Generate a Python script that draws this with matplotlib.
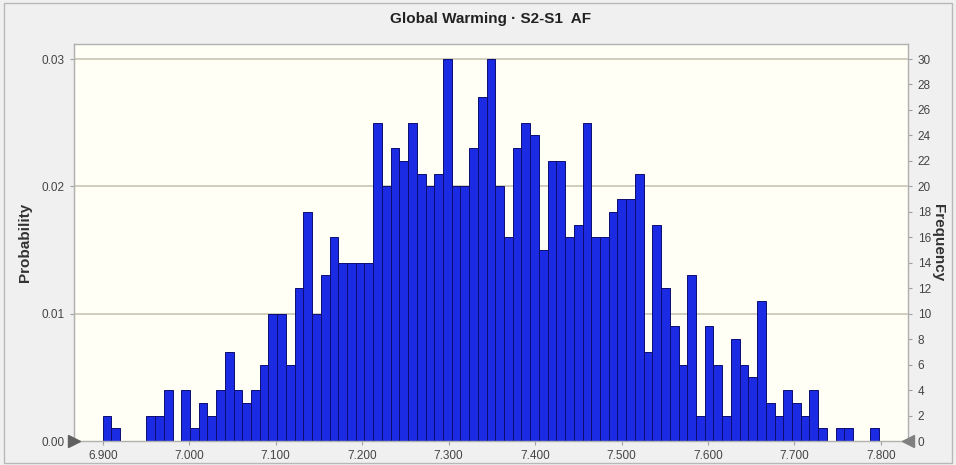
import matplotlib
matplotlib.use("Agg")
import matplotlib.pyplot as plt
from matplotlib.patches import Rectangle

plt.rcParams['font.family'] = ['Liberation Sans', 'DejaVu Sans']

# ---- data ----
title = "Global Warming \u00b7 S2-S1  AF"
bin_start = 6.900
bin_width = 0.01009
counts = [2, 1, 0, 0, 0, 2, 2, 4, 0, 4,
          1, 3, 2, 4, 7, 4, 3, 4, 6, 10,
          10, 6, 12, 18, 10, 13, 16, 14, 14, 14,
          14, 25, 20, 23, 22, 25, 21, 20, 21, 30,
          20, 20, 23, 27, 30, 20, 16, 23, 25, 24,
          15, 22, 22, 16, 17, 25, 16, 16, 18, 19,
          19, 21, 7, 17, 12, 9, 6, 13, 2, 9,
          6, 2, 8, 6, 5, 11, 3, 2, 4, 3,
          2, 4, 1, 0, 1, 1, 0, 0, 1]
n_samples = 1000
x_ticks = [6.9, 7.0, 7.1, 7.2, 7.3, 7.4, 7.5, 7.6, 7.7, 7.8]
freq_ticks = list(range(0, 31, 2))
prob_ticks = [0.00, 0.01, 0.02, 0.03]
grid_freq = [10, 20, 30]

edges = [bin_start + i * bin_width for i in range(len(counts))]

fig = plt.figure(figsize=(9.56, 4.65), dpi=100)
fig.patch.set_facecolor('#f0f0f0')
fig.patches.append(Rectangle((0.004, 0.004), 0.992, 0.99, transform=fig.transFigure,
                             fill=False, edgecolor='#b8b8b8', lw=1))

ax = fig.add_axes([74/956, 1-441/465, (908-74)/956, (441-44)/465])
ax.set_facecolor('#fffff6')

for g in grid_freq:
    ax.axhline(g, color='#c8c5b4', lw=1.2, zorder=1)

ax.bar(edges, counts, width=bin_width, align='edge', color='#1b2be4',
       edgecolor='#0c0c70', linewidth=0.7, zorder=2)

ax.set_xlim(6.8668, 7.8313)
ax.set_ylim(0, 31.18)

ax.yaxis.tick_right()
ax.yaxis.set_label_position('right')
ax.set_yticks(freq_ticks)
ax.set_yticklabels([str(t) for t in freq_ticks])
ax.set_xticks(x_ticks)
ax.set_xticklabels([f"{t:.3f}" for t in x_ticks])
ax.tick_params(axis='both', labelsize=8.5, colors='#a0a0a0', labelcolor='#444444',
               length=3, direction='out')
ax.tick_params(axis='y', pad=4)

for s in ax.spines.values():
    s.set_color('#b0b0b0')
    s.set_linewidth(1)

ax.set_ylabel('Frequency', rotation=-90, fontsize=11, fontweight='bold',
              color='#333333', labelpad=10)

sec = ax.secondary_yaxis('left', functions=(lambda f: f / n_samples, lambda p: p * n_samples))
sec.set_yticks(prob_ticks)
sec.set_yticklabels([f"{t:.2f}" for t in prob_ticks])
sec.tick_params(labelsize=8.5, colors='#a0a0a0', labelcolor='#444444', length=3)
sec.spines['left'].set_color('#b0b0b0')
sec.set_ylabel('Probability', fontsize=11, fontweight='bold', color='#333333', labelpad=7)

# triangle markers at baseline
ax.plot([0], [0], marker='>', color='#606060', markersize=8, transform=ax.transAxes,
        clip_on=False, zorder=5)
ax.plot([1], [0], marker='<', color='#808080', markersize=8, transform=ax.transAxes,
        clip_on=False, zorder=5)

ax.set_title(title, fontsize=11, fontweight='bold', color='#222222', pad=15)

fig.savefig('out.png', dpi=100, facecolor=fig.get_facecolor())
